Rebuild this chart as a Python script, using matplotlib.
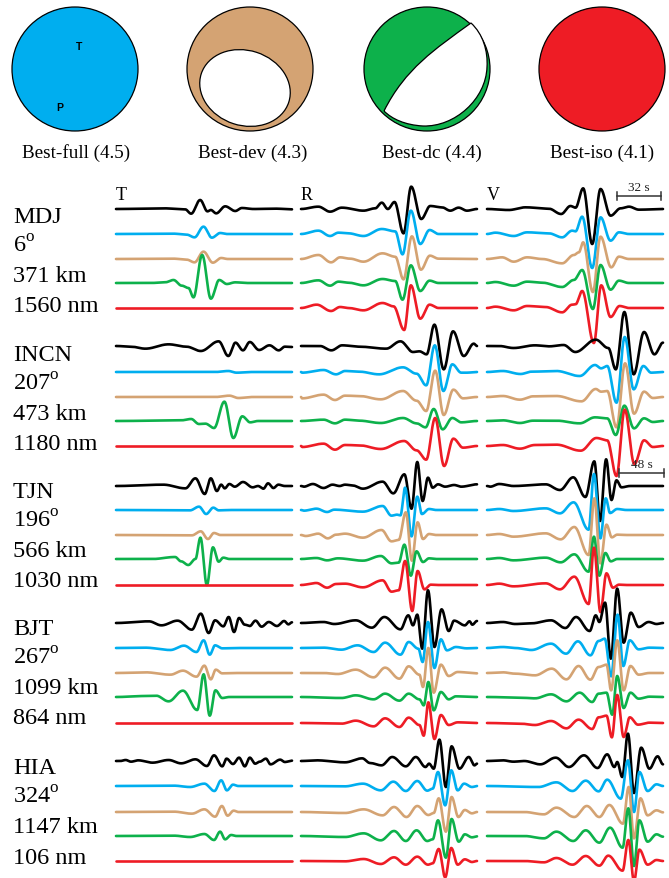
import numpy as np
import matplotlib
matplotlib.use('Agg')
import matplotlib.pyplot as plt
from matplotlib.patches import Ellipse, PathPatch
from matplotlib.path import Path

plt.rcParams['font.family'] = ['Liberation Serif', 'DejaVu Serif']
plt.rcParams['mathtext.fontset'] = 'custom'
plt.rcParams['mathtext.rm'] = 'Liberation Serif'

colors = ['#000000', '#00AEEF', '#D4A373', '#0DB14B', '#EE1C25']
ball_labels = ['Best-full (4.5)', 'Best-dev (4.3)', 'Best-dc (4.4)', 'Best-iso (4.1)']
components = ['T', 'R', 'V']
stations = ['MDJ', 'INCN', 'TJN', 'BJT', 'HIA']
azimuths = ['6', '207', '196', '267', '324']
distances = ['371 km', '473 km', '566 km', '1099 km', '1147 km']
amplitudes = ['1560 nm', '1180 nm', '1030 nm', '864 nm', '106 nm']

# each trace: (time, amplitude) at its peaks and troughs, order black, blue, tan, green, red
FLAT = [(100, 0)]

MDJ_T = [
    [(142, 2), (207, -1), (225, -14), (252, 27), (274, -7), (284, -3), (300, -13), (327, 8), (357, -6), (377, 3), (412, 0), (479, 1), (527, -1)],
    [(172, 1), (212, -2), (235, -10), (262, 22), (287, -11), (312, 3), (332, 0)],
    [(172, 1), (212, -2), (235, -10), (262, 22), (290, -11), (315, 3), (335, 0)],
    [(102, 0), (147, 2), (172, 9), (197, -8), (217, -15), (232, -43), (258, 84), (284, -47), (309, 9), (332, -3), (357, 2), (392, 0)],
    FLAT,
]
MDJ_R = [
    [(52, 7), (87, -8), (122, 4), (187, -5), (222, 2), (242, 19), (260, 0), (280, 21), (307, -73), (330, 67), (360, -30), (387, 9), (422, 5), (447, -5), (472, 4), (497, -5), (527, 0)],
    [(52, 10), (87, -6), (112, 4), (142, 2), (187, -6), (242, 15), (282, 8), (304, -61), (329, 70), (357, -30), (385, 12), (412, 0)],
    [(52, 12), (90, -10), (117, 5), (147, 1), (187, -8), (244, 17), (282, 7), (307, -61), (332, 68), (359, -32), (386, 10), (412, 1)],
    [(52, 8), (87, -8), (112, 4), (142, 1), (187, -7), (244, 12), (282, 6), (304, -50), (329, 53), (357, -24), (385, 7), (412, 0)],
    [(47, 10), (90, -9), (117, 3), (142, 0), (187, -7), (244, 15), (277, 5), (309, -66), (329, 68), (357, -32), (385, 10), (412, 0)],
]
MDJ_V = [
    [(65, -3), (115, 5), (185, 1), (222, -15), (250, 9), (265, 4), (288, 62), (315, -105), (340, 60), (370, -20), (400, 2), (425, 7), (455, -2), (527, 0)],
    [(25, 4), (80, -6), (120, 5), (185, 2), (225, -10), (255, 10), (265, 8), (285, 52), (315, -102), (340, 50), (370, -20), (395, 5), (425, 0)],
    [(45, 5), (80, -8), (120, 5), (165, 0), (225, -13), (260, 12), (275, 20), (288, 50), (317, -99), (340, 67), (372, -25), (395, 7), (425, 0)],
    [(25, 3), (80, -8), (120, 4), (165, 1), (225, -12), (260, 9), (285, 39), (317, -78), (340, 54), (370, -20), (395, 7), (425, 0)],
    [(25, 4), (80, -7), (120, 6), (175, 3), (225, -13), (255, 10), (265, 11), (285, 51), (320, -105), (342, 68), (370, -27), (397, 6), (425, 0)],
]
INCN_T = [
    [(42, -2), (82, -8), (147, 5), (197, -2), (237, -15), (287, 14), (314, -30), (334, 10), (355, -13), (374, 12), (400, -12), (429, 2), (455, -13), (472, -2), (492, -3)],
    [(277, 0), (314, 3), (337, -2), (382, 0)],
    [(277, 0), (317, 4), (342, -3), (382, 0)],
    [(182, 2), (210, 6), (232, -9), (250, -8), (274, -21), (303, 58), (328, -51), (353, 14), (375, -4), (397, 0)],
    FLAT,
]
INCN_R = [
    [(53, 0), (85, -13), (115, 2), (163, -2), (238, -8), (278, 14), (313, -18), (331, -16), (351, -25), (373, 64), (399, -70), (425, 44), (455, -30), (483, 7), (492, 0)],
    [(3, -2), (63, 6), (98, -7), (123, 3), (163, 1), (218, -7), (285, 14), (323, -5), (350, -40), (374, 80), (398, -57), (423, 23), (448, -2), (463, -2), (492, 0)],
    [(3, -4), (63, 7), (95, -9), (123, 4), (163, 3), (223, -7), (285, 18), (323, -11), (350, -42), (375, 79), (399, -54), (426, 22), (453, -4), (492, 0)],
    [(63, 4), (95, -7), (123, 4), (163, 1), (223, -6), (285, 9), (323, -7), (348, -19), (371, 36), (396, -25), (423, 9), (448, -4), (492, 0)],
    [(3, -3), (63, 7), (95, -11), (123, 3), (163, 2), (223, -9), (288, 15), (323, -13), (350, -41), (375, 84), (400, -60), (426, 22), (453, -5), (492, 0)],
]
INCN_V = [
    [(34, 0), (74, -6), (134, 2), (174, -1), (214, 3), (247, -18), (304, 19), (339, -6), (360, -70), (384, 102), (410, -85), (439, 42), (468, -25), (492, 10)],
    [(44, 3), (94, -6), (124, 1), (194, 3), (259, -12), (302, 21), (319, 11), (336, 18), (362, -92), (385, 105), (410, -52), (437, 18), (459, -2), (492, 0)],
    [(44, 3), (92, -8), (129, 2), (194, 3), (264, -13), (304, 24), (319, 16), (336, 18), (362, -91), (386, 101), (411, -50), (439, 16), (464, -3), (492, 0)],
    [(44, 2), (92, -6), (129, 1), (194, 1), (259, -7), (302, 11), (336, 8), (360, -42), (384, 46), (411, -22), (439, 8), (464, -3), (492, 0)],
    [(44, 3), (92, -8), (134, 3), (194, 4), (262, -14), (306, 24), (336, 17), (362, -90), (385, 109), (412, -54), (439, 17), (464, -3), (492, 0)],
]
TJN_T = [
    [(132, 4), (194, -7), (222, 23), (248, -24), (265, 23), (282, -15), (294, 4), (304, -7), (317, 6), (332, -2), (355, 12), (382, -4), (397, 0), (412, -8), (425, 8), (440, -6), (454, 4), (472, 0)],
    [(207, -1), (232, 10), (252, -12), (272, 7), (287, -1), (322, 0)],
    [(212, -1), (237, 11), (257, -12), (274, 6), (292, 0)],
    [(102, 0), (165, 6), (182, -7), (202, -18), (222, 0), (236, 64), (254, -78), (271, 35), (287, -8), (300, 4), (317, 0)],
    FLAT,
]
TJN_R = [
    [(8, -2), (33, 6), (63, -6), (88, 4), (108, 0), (123, 4), (143, 2), (173, -8), (228, 13), (258, -22), (289, 35), (309, -68), (325, 72), (340, -45), (355, 25), (368, -5), (383, 5), (403, -2), (428, 3), (448, -2), (492, 5)],
    [(8, -2), (43, 4), (73, -6), (93, 1), (173, -5), (228, 12), (253, -17), (268, -14), (278, -16), (291, 67), (309, -79), (325, 40), (338, -12), (358, 3), (378, 0)],
    [(13, -3), (48, 4), (75, -10), (98, 1), (123, 4), (173, -8), (225, 15), (253, -19), (273, -15), (293, 68), (310, -77), (326, 38), (341, -12), (358, 3), (378, 0)],
    [(43, 3), (73, -4), (103, 2), (173, -5), (223, 9), (253, -13), (273, -11), (289, 43), (307, -50), (323, 23), (341, -9), (358, 2), (378, 0)],
    [(43, 6), (73, -8), (98, 3), (123, 4), (173, -7), (228, 14), (253, -20), (273, -16), (291, 72), (311, -78), (326, 42), (345, -13), (363, 1), (383, 0)],
]
TJN_V = [
    [(9, -2), (34, 6), (74, 0), (164, 5), (204, -12), (241, 26), (275, -33), (300, 74), (316, -105), (333, 80), (348, -42), (362, 17), (376, -4), (400, 0)],
    [(34, 3), (74, -3), (164, 5), (204, -10), (242, 23), (284, -59), (299, 108), (317, -85), (332, 35), (344, -9), (364, 3), (390, 0)],
    [(34, 3), (74, -5), (164, 5), (206, -13), (244, 24), (284, -60), (300, 110), (317, -85), (334, 31), (349, -7), (364, 1), (390, 0)],
    [(34, 3), (74, -4), (164, 4), (206, -10), (244, 14), (284, -38), (299, 67), (314, -50), (331, 18), (346, -7), (364, 0)],
    [(34, 4), (74, -4), (164, 5), (204, -13), (244, 25), (284, -57), (299, 112), (317, -81), (334, 35), (352, -8), (369, 1), (390, 0)],
]
BJT_T = [
    [(92, 5), (127, -7), (172, 7), (212, -20), (237, 28), (259, -30), (277, 8), (300, -10), (315, 18), (330, -27), (344, 15), (360, -5), (374, -9), (390, 7), (407, -11), (427, 3), (450, -9), (470, 6), (482, -4), (492, 2)],
    [(82, 1), (152, -6), (190, 7), (225, -12), (245, 23), (262, -20), (277, 8), (297, -1), (337, 0)],
    [(82, 2), (152, -5), (187, 7), (225, -11), (247, 22), (265, -19), (279, 10), (297, -1), (337, 0)],
    [(82, 3), (112, 4), (147, -13), (187, 19), (227, -39), (245, 68), (262, -56), (278, 20), (297, -3), (317, 0)],
    FLAT,
]
BJT_R = [
    [(63, 3), (93, -3), (153, 8), (198, -14), (233, 18), (278, -19), (300, 23), (313, -7), (325, 25), (339, -77), (355, 98), (373, -72), (393, 41), (413, -24), (428, 7), (458, -7), (471, 5), (479, -5), (492, 6)],
    [(63, 1), (113, -5), (158, 8), (203, -12), (235, 16), (278, -20), (301, 18), (328, -2), (340, -42), (355, 78), (373, -60), (391, 26), (408, -7), (433, 3), (463, -1), (492, 0)],
    [(63, 0), (103, -3), (153, 10), (203, -13), (235, 16), (275, -17), (301, 20), (331, -5), (341, -42), (356, 75), (371, -59), (391, 25), (413, -9), (438, 3), (492, -1)],
    [(113, -3), (153, 5), (203, -7), (235, 10), (275, -11), (301, 10), (331, -7), (343, -25), (356, 45), (371, -40), (391, 15), (413, -7), (433, 2), (492, 0)],
    [(113, -2), (153, 7), (203, -10), (235, 14), (275, -12), (301, 16), (331, -6), (343, -38), (356, 62), (373, -48), (391, 24), (413, -6), (438, 2), (492, 0)],
]
BJT_V = [
    [(44, 3), (79, -3), (124, -1), (179, 8), (219, -15), (249, 18), (287, -24), (304, 23), (314, 3), (330, 61), (346, -107), (364, 103), (382, -59), (402, 31), (424, -12), (452, 3), (474, -3), (492, 0)],
    [(44, 3), (79, 0), (124, -6), (179, 13), (221, -17), (254, 20), (289, -22), (312, 21), (329, 28), (347, -85), (365, 100), (381, -54), (399, 23), (424, -4), (454, 1), (492, 0)],
    [(44, 2), (79, -2), (134, -7), (181, 13), (222, -19), (256, 21), (289, -20), (312, 18), (334, 25), (347, -52), (364, 98), (382, -52), (401, 21), (424, -5), (454, 0), (492, 0)],
    [(94, -2), (134, -4), (179, 8), (222, -13), (259, 13), (294, -15), (312, 10), (334, 13), (350, -53), (364, 63), (382, -33), (401, 13), (424, -5), (454, 1), (492, 0)],
    [(94, -2), (134, -6), (179, 6), (222, -16), (256, 10), (294, -18), (312, 17), (334, 22), (349, -43), (364, 84), (382, -42), (399, 17), (422, -5), (454, 1), (492, 0)],
]
HIA_T = [
    [(12, 0), (27, 3), (42, -2), (62, 2), (102, -5), (147, 3), (182, -7), (222, 5), (254, -15), (274, 17), (297, -16), (309, 7), (327, -9), (344, 10), (360, -16), (374, 10), (389, -8), (402, -2), (419, 7), (432, -10), (459, 4), (472, -3), (492, 1)],
    [(162, 1), (207, -3), (247, 7), (275, -15), (294, 17), (310, -13), (327, 4), (342, 0)],
    [(162, 1), (212, -5), (247, 8), (277, -14), (296, 18), (312, -11), (329, 4), (342, 0)],
    [(162, 1), (207, -3), (247, 6), (274, -12), (291, 13), (305, -10), (322, 3), (337, 0)],
    FLAT,
]
HIA_R = [
    [(43, 2), (123, -4), (171, 8), (193, -6), (225, -13), (255, 12), (293, -16), (321, 12), (348, -18), (358, -8), (371, -23), (387, 64), (405, -78), (421, 44), (443, -23), (469, 12), (485, -13), (492, -8)],
    [(123, -1), (173, 7), (223, -13), (258, 13), (293, -15), (325, 15), (353, -14), (368, -8), (383, 42), (403, -58), (420, 47), (438, -13), (456, 7), (478, -3), (492, 0)],
    [(123, -3), (175, 8), (228, -10), (260, 15), (295, -15), (325, 18), (356, -9), (371, -3), (385, 41), (405, -59), (421, 45), (440, -15), (458, 6), (478, -4), (492, 0)],
    [(123, -3), (175, 8), (223, -13), (260, 15), (293, -15), (323, 17), (353, -15), (368, -10), (383, 47), (405, -65), (421, 51), (441, -17), (458, 5), (478, -4), (492, -1)],
    [(123, -1), (175, 6), (223, -9), (260, 11), (293, -11), (325, 13), (355, -11), (368, -7), (385, 36), (403, -49), (420, 39), (438, -11), (458, 5), (478, -3), (492, 0)],
]
HIA_V = [
    [(44, 2), (74, -2), (104, 0), (149, -10), (192, 10), (229, -18), (271, 17), (309, -21), (336, 20), (356, -18), (364, -3), (378, -48), (394, 82), (411, -96), (431, 40), (454, -23), (477, 14), (492, -10)],
    [(144, -3), (194, 11), (239, -15), (276, 16), (312, -16), (336, 19), (374, -38), (394, 77), (411, -78), (426, 42), (449, -15), (474, 5), (492, 0)],
    [(104, 0), (159, -7), (194, 13), (244, -15), (279, 18), (314, -15), (342, 21), (380, -35), (396, 75), (411, -79), (429, 41), (449, -10), (474, 5), (492, -1)],
    [(104, 0), (159, -7), (194, 13), (241, -15), (276, 17), (314, -20), (344, 25), (379, -35), (395, 83), (411, -90), (426, 47), (449, -17), (474, 5), (492, -2)],
    [(104, 0), (159, -4), (194, 9), (239, -11), (276, 15), (314, -14), (339, 16), (379, -29), (395, 63), (411, -60), (426, 34), (449, -11), (474, 3), (492, 0)],
]

station_traces = [
    [MDJ_T, MDJ_R, MDJ_V],
    [INCN_T, INCN_R, INCN_V],
    [TJN_T, TJN_R, TJN_V],
    [BJT_T, BJT_R, BJT_V],
    [HIA_T, HIA_R, HIA_V],
]
baselines = [
    [210, 235, 260, 284, 309],
    [347, 373, 398, 422, 447],
    [487, 511, 536, 560, 586],
    [624, 649, 674, 698, 724],
    [762, 787, 813, 837, 862],
]
label_rows = [[223, 253, 282, 312], [361, 391, 420, 450], [498, 528, 557, 587], [635, 665, 694, 724], [774, 804, 833, 864]]
time_spans = [527, 492, 492, 492, 492]
panel_left = [116, 301, 487]
panel_width = 176


def smooth_trace(points, span):
    # cosine blend between the picked extrema, so the peaks stay round
    pts = list(points)
    if pts[0][0] > 0:
        pts = [(0, 0)] + pts
    if pts[-1][0] < span:
        pts = pts + [(span, 0)]
    t = np.array([p[0] for p in pts], dtype=float)
    a = np.array([p[1] for p in pts], dtype=float)
    tt = np.linspace(0, span, 900)
    idx = np.clip(np.searchsorted(t, tt) - 1, 0, len(t) - 2)
    f = (tt - t[idx]) / (t[idx + 1] - t[idx])
    f = (1 - np.cos(np.pi * f)) / 2
    return tt, a[idx] + (a[idx + 1] - a[idx]) * f


fig = plt.figure(figsize=(6.69, 8.79), dpi=100)
ax = fig.add_axes([0, 0, 1, 1])
ax.set_xlim(0, 669)
ax.set_ylim(879, 0)
ax.axis('off')

# focal mechanisms
ball_x = [75, 250, 427, 602]
label_x = [76, 253, 432, 602]
for x, lx, c, lab in zip(ball_x, label_x, colors[1:], ball_labels):
    ax.add_patch(Ellipse((x, 70), 126, 124, fc=c, ec='black', lw=0.9))
    ax.text(lx, 158, lab, fontsize=13.8, ha='center', va='baseline')
ax.text(79, 47, 'T', fontsize=7.5, fontweight='bold', family='Liberation Sans', ha='center', va='center')
ax.text(60, 108, 'P', fontsize=7.5, fontweight='bold', family='Liberation Sans', ha='center', va='center')
ax.add_patch(Ellipse((245, 89), 92, 75, angle=18, fc='white', ec='black', lw=0.9))
dc_path = Path(
    [(384, 112), (405, 70), (435, 50), (471, 24), (483, 35), (488, 52), (487, 68),
     (486, 100), (455, 128), (423, 127), (405, 126), (392, 120), (384, 112)],
    [Path.MOVETO, Path.CURVE4, Path.CURVE4, Path.CURVE4, Path.CURVE4, Path.CURVE4, Path.CURVE4,
     Path.CURVE4, Path.CURVE4, Path.CURVE4, Path.CURVE4, Path.CURVE4, Path.CURVE4])
ax.add_patch(PathPatch(dc_path, fc='white', ec='black', lw=0.9))

# waveforms
for s, traces in enumerate(station_traces):
    for c, comp in enumerate(traces):
        for k, points in enumerate(comp):
            tt, aa = smooth_trace(points, time_spans[s])
            x = panel_left[c] + tt / time_spans[s] * panel_width
            y = baselines[s][k] - aa / 3
            ax.plot(x, y, color=colors[k], lw=1.9, solid_capstyle='round', zorder=3 + s)
    rows = label_rows[s]
    ax.text(13, rows[0], stations[s], fontsize=17.5, va='baseline')
    ax.text(13, rows[1], azimuths[s] + r'$^{\mathrm{o}}$', fontsize=17.5, va='baseline')
    ax.text(13, rows[2], distances[s], fontsize=17.5, va='baseline')
    ax.text(13, rows[3], amplitudes[s], fontsize=17.5, va='baseline')

for x, name in zip(panel_left, components):
    ax.text(x, 200, name, fontsize=13, va='baseline', ha='left')

# time scale bars
for x0, x1, y, lab in [(617, 661, 197, '32 s'), (619, 664, 474, '48 s')]:
    ax.plot([x0, x1], [y, y], color='#333333', lw=1.1, zorder=9)
    ax.plot([x0, x0], [y - 4, y + 4], color='#333333', lw=1.1, zorder=9)
    ax.plot([x1, x1], [y - 4, y + 4], color='#333333', lw=1.1, zorder=9)
    ax.text((x0 + x1) / 2, y - 6, lab, fontsize=9.5, color='#222222', ha='center', va='baseline', zorder=9)

fig.savefig('out.png', dpi=100)
